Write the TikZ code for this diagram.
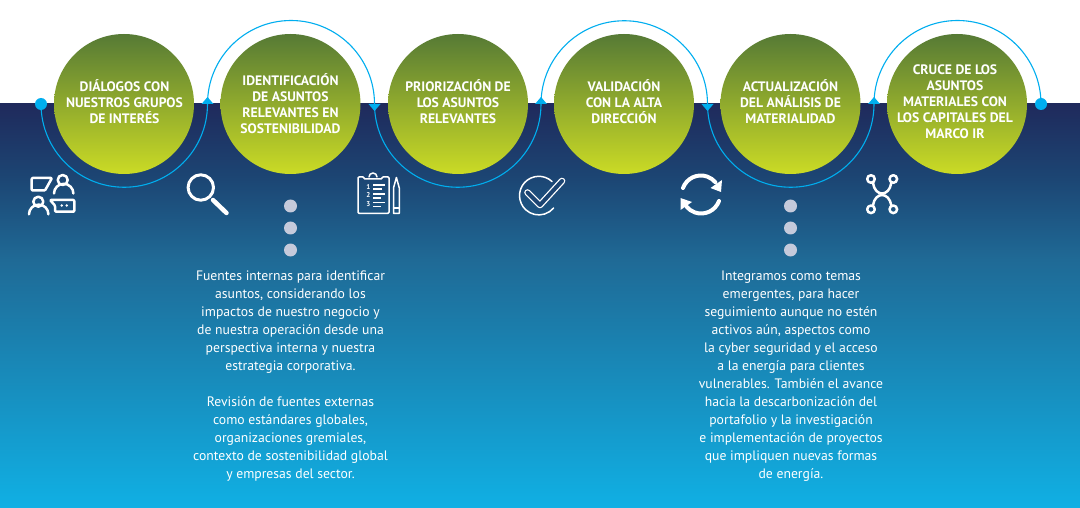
\documentclass[tikz,border=0pt]{standalone}
\usepackage{fontspec}
\setmainfont{PT Sans}
\usetikzlibrary{positioning}
\definecolor{deepBlue}{HTML}{1F2A5C}
\definecolor{upBlue}{HTML}{1C4573}
\definecolor{midBlue}{HTML}{1F6A96}
\definecolor{skyBlue}{HTML}{10B0E4}
\definecolor{lineCyan}{HTML}{00AEEF}
\definecolor{topGreen}{HTML}{567A35}
\definecolor{lowGreen}{HTML}{CBDB25}
\definecolor{dotGrey}{HTML}{C5CADB}
\pgfdeclareverticalshading{seaband}{100bp}{
    color(0bp)=(skyBlue); color(25bp)=(skyBlue); color(55.7bp)=(midBlue); color(66bp)=(upBlue); color(75bp)=(deepBlue); color(100bp)=(deepBlue)}
\tikzset{
    stepcircle/.style={circle, minimum size=140pt, inner sep=0pt, top color=topGreen, bottom color=lowGreen},
    steplabel/.style={align=center, text=white, font=\fontsize{13.7}{16}\selectfont\bfseries, inner sep=0pt},
    bodytext/.style={align=center, text=white, font=\fontsize{13.7}{18}\selectfont, inner sep=0pt},
    enddot/.style={circle, fill=lineCyan, minimum size=12pt, inner sep=0pt},
    sidedot/.style={circle, fill=dotGrey, minimum size=13pt, inner sep=0pt},
    looparc/.style={draw=lineCyan, line width=1.1pt},
    tiptri/.style={fill=lineCyan},
    iconline/.style={draw=white, line width=2.5pt, line join=round, line cap=round}
}

\begin{document}
\begin{tikzpicture}[x=1pt, y=-1pt]
    \useasboundingbox (0,0) rectangle (1080,508);
    % Background band
    \fill[white] (0,0) rectangle (1080,104);
    \shade[shading=seaband] (0,104) rectangle (1080,508);

    % Joints on the line
    \node[enddot] (dotL) at (41,104) {};
    \coordinate (j1) at (207.5,104);
    \coordinate (j2) at (374.5,104);
    \coordinate (j3) at (541,104);
    \coordinate (j4) at (707.5,104);
    \coordinate (j5) at (874,104);
    \node[enddot] (dotR) at (1041,104) {};

    % Arcs, under and over in turn
    \draw[looparc] (dotL.center) arc[start angle=180, end angle=0, radius=83.25];
    \draw[looparc] (j1) arc[start angle=180, end angle=360, radius=83.5];
    \draw[looparc] (j2) arc[start angle=180, end angle=0, radius=83.25];
    \draw[looparc] (j3) arc[start angle=180, end angle=360, radius=83.25];
    \draw[looparc] (j4) arc[start angle=180, end angle=0, radius=83.25];
    \draw[looparc] (j5) arc[start angle=180, end angle=360, radius=83.5];

    % Tips
    \fill[tiptri] (j1) ++(-6,0) -- ++(12,0) -- ++(-6,-7) -- cycle;
    \fill[tiptri] (j2) ++(-6,0) -- ++(12,0) -- ++(-6,7) -- cycle;
    \fill[tiptri] (j3) ++(-6,0) -- ++(12,0) -- ++(-6,-7) -- cycle;
    \fill[tiptri] (j4) ++(-6,0) -- ++(12,0) -- ++(-6,7) -- cycle;
    \fill[tiptri] (j5) ++(-6,0) -- ++(12,0) -- ++(-6,-7) -- cycle;

    % Circles
    \node[stepcircle] (c1) at (124,104) {};
    \node[stepcircle] (c2) at (290.5,104) {};
    \node[stepcircle] (c3) at (458,104) {};
    \node[stepcircle] (c4) at (624,104) {};
    \node[stepcircle] (c5) at (790.5,104) {};
    \node[stepcircle] (c6) at (957,104) {};

    % Circle labels
    \node[steplabel] (t1) at (124.5,101.3) {DIÁLOGOS CON\\NUESTROS GRUPOS\\DE INTERÉS};
    \node[steplabel] (t2) at (290.5,103.3) {IDENTIFICACIÓN\\DE ASUNTOS\\RELEVANTES EN\\SOSTENIBILIDAD};
    \node[steplabel] (t3) at (458,101.3) {PRIORIZACIÓN DE\\LOS ASUNTOS\\RELEVANTES};
    \node[steplabel] (t4) at (624,101.3) {VALIDACIÓN\\CON LA ALTA\\DIRECCIÓN};
    \node[steplabel] (t5) at (790.5,101.3) {ACTUALIZACIÓN\\DEL ANÁLISIS DE\\MATERIALIDAD};
    \node[steplabel] (t6) at (955,101.3) {CRUCE DE LOS\\ASUNTOS\\MATERIALES CON\\LOS CAPITALES DEL\\MARCO IR};

    % Dots under circles 2 and 5
    \node[sidedot] (d21) at (290.5,206) {};
    \node[sidedot] (d22) at (290.5,228) {};
    \node[sidedot] (d23) at (290.5,250) {};
    \node[sidedot] (d51) at (790.5,206) {};
    \node[sidedot] (d52) at (790.5,228) {};
    \node[sidedot] (d53) at (790.5,250) {};

    % Long texts
    \node[bodytext] (b2) at (290.5,376) {Fuentes internas para identificar\\asuntos, considerando los\\impactos de nuestro negocio y\\de nuestra operación desde una\\perspectiva interna y nuestra\\estrategia corporativa.\\[18pt]Revisión de fuentes externas\\como estándares globales,\\organizaciones gremiales,\\contexto de sostenibilidad global\\y empresas del sector.};
    \node[bodytext] (b5) at (791,376) {Integramos como temas\\emergentes, para hacer\\seguimiento aunque no estén\\activos aún, aspectos como\\la cyber seguridad y el acceso\\a la energía para clientes\\vulnerables. También el avance\\hacia la descarbonización del\\portafolio y la investigación\\e implementación de proyectos\\que impliquen nuevas formas\\de energía.};

    % Icon: people talking
    \draw[iconline, rounded corners=1pt] (31.7,178) -- (52,178) -- (45,190.5) -- (31.7,190.5) -- cycle;
    \draw[iconline] (62.7,180) circle (5);
    \draw[iconline] (54,193.5) arc[start angle=180, end angle=360, radius=9.7];
    \draw[iconline] (38.3,201.7) circle (5);
    \draw[iconline] (29,214.3) arc[start angle=180, end angle=360, radius=9.7];
    \draw[iconline, rounded corners=1pt] (50,200) -- (74.3,200) -- (74.3,211.7) -- (55,211.7) -- (55,205.5) -- cycle;
    \fill[white] (61.7,205.5) circle (1.4);
    \fill[white] (66.7,205.5) circle (1.4);

    % Icon: magnifier
    \draw[iconline, line width=3pt] (200.8,187.5) circle (12.7);
    \draw[iconline, line width=4.5pt] (213,200) -- (226.5,213);

    % Icon: clipboard
    \draw[iconline, line width=1.5pt, rounded corners=1pt] (364,177) -- (358,177) -- (358,213.3) -- (389,213.3) -- (389,177) -- (382,177) -- (382,179) -- (364,179) -- cycle;
    \draw[iconline, line width=1.5pt] (369,177) arc[start angle=180, end angle=360, radius=4];
    \node[text=white, font=\fontsize{7}{8}\selectfont\bfseries, inner sep=0pt] (n1) at (368.3,186.7) {1};
    \node[text=white, font=\fontsize{7}{8}\selectfont\bfseries, inner sep=0pt] (n2) at (368.3,195.3) {2};
    \node[text=white, font=\fontsize{7}{8}\selectfont\bfseries, inner sep=0pt] (n3) at (368.3,204) {3};
    \draw[iconline, line width=1.3pt, line cap=butt] (373,185) -- (385,185) (373,189) -- (382,189) (373,194) -- (385,194) (373,198) -- (381,198) (373,202.5) -- (385,202.5) (373,206.5) -- (381,206.5);
    \draw[iconline, line width=1.5pt] (393.5,188) -- (396.4,177.5) -- (399.3,188) -- (399.3,213.3) -- (393.5,213.3) -- cycle;
    \draw[iconline, line width=1.5pt] (393.5,208) -- (399.3,208);

    % Icon: check
    \draw[iconline, line width=1.5pt] (552,181.5) arc[start angle=-47, end angle=-320, radius=19.3];
    \draw[iconline, line width=1.3pt, double=upBlue, double distance=4pt] (527.5,192.5) -- (540,205) -- (562,181);

    % Icon: cycle
    \draw[iconline, line width=4pt] (683,188) arc[start angle=200, end angle=320, radius=19];
    \fill[white] (722,180) -- (721,192) -- (710.5,188) -- cycle;
    \draw[iconline, line width=4pt] (719,201) arc[start angle=20, end angle=140, radius=19];
    \fill[white] (680.5,198) -- (680.5,210) -- (692,202) -- cycle;

    % Icon: network
    \draw[iconline] (871,179) circle (3.8);
    \draw[iconline] (893.3,179) circle (3.8);
    \draw[iconline] (871,209.3) circle (3.8);
    \draw[iconline] (893.3,209.3) circle (3.8);
    \draw[iconline] (873,183) .. controls (875,197) and (889,197) .. (891.3,183);
    \draw[iconline] (873,205.3) .. controls (875,191.6) and (889,191.6) .. (891.3,205.3);
\end{tikzpicture}
\end{document}
